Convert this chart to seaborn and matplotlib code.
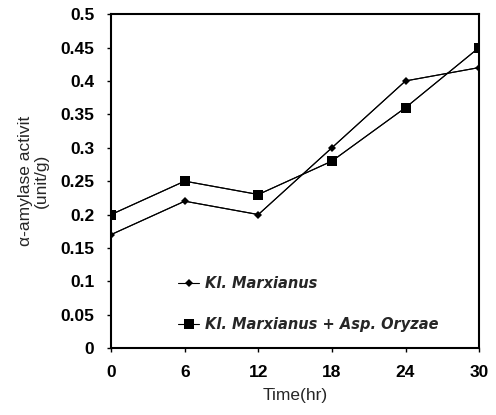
import matplotlib
matplotlib.use("Agg")
import matplotlib.pyplot as plt
import seaborn as sns
import pandas as pd

time_hr = [0, 6, 12, 18, 24, 30]
kl_marxianus = [0.17, 0.22, 0.20, 0.30, 0.40, 0.42]
kl_asp = [0.20, 0.25, 0.23, 0.28, 0.36, 0.45]
series_names = ["Kl. Marxianus", "Kl. Marxianus + Asp. Oryzae"]
y_ticks = [0, 0.05, 0.1, 0.15, 0.2, 0.25, 0.3, 0.35, 0.4, 0.45, 0.5]
y_tick_labels = ["0", "0.05", "0.1", "0.15", "0.2", "0.25", "0.3", "0.35", "0.4", "0.45", "0.5"]

df = pd.DataFrame({
    "Time": time_hr * 2,
    "Activity": kl_marxianus + kl_asp,
    "Series": [series_names[0]] * len(time_hr) + [series_names[1]] * len(time_hr),
})

sns.set_theme(style="ticks")
plt.rcParams["font.family"] = ["Liberation Sans", "DejaVu Sans"]

fig = plt.figure(figsize=(4.96, 4.15), dpi=100)
ax = fig.add_axes([0.224, 0.161, 0.742, 0.805])

sns.lineplot(data=df, x="Time", y="Activity", hue="Series",
             palette=["black", "black"], linewidth=0.8, ax=ax, legend=False)
for name, vals, mk, ms in [(series_names[0], kl_marxianus, "D", 4.5), (series_names[1], kl_asp, "s", 7)]:
    ax.plot(time_hr, vals, marker=mk, markersize=ms, color="black", linewidth=0.8,
            markeredgewidth=0, label=name)

ax.set_xlim(0, 30)
ax.set_ylim(0, 0.5)
ax.set_xticks(time_hr)
ax.set_xticklabels([str(t) for t in time_hr])
ax.set_yticks(y_ticks)
ax.set_yticklabels(y_tick_labels)
ax.tick_params(axis="both", direction="out", length=3, width=1, labelsize=12.5, colors="black")
ax.tick_params(axis="x", pad=9)
ax.tick_params(axis="y", pad=9)
for lab in ax.get_xticklabels() + ax.get_yticklabels():
    lab.set_fontweight("bold")
for sp in ax.spines.values():
    sp.set_visible(True)
    sp.set_linewidth(1.5)
    sp.set_color("black")

ax.set_xlabel("Time(hr)", fontsize=12.5, labelpad=6)
ax.set_ylabel("α-amylase activit\n(unit/g)", fontsize=12.5, labelpad=8, linespacing=1.1)

leg = ax.legend(loc="lower left", bbox_to_anchor=(0.145, 0.01), frameon=False,
                handlelength=1.5, handletextpad=0.4, labelspacing=1.75,
                prop={"family": "DejaVu Sans", "style": "italic", "weight": "bold", "size": 10.5})

fig.savefig("out.png", dpi=100)
